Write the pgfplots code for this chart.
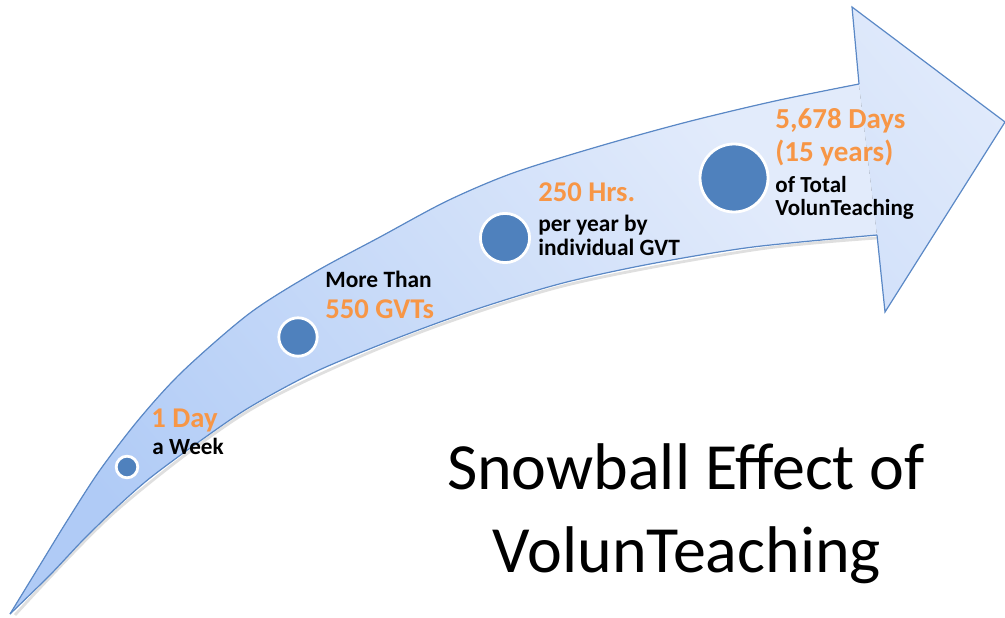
\documentclass[border=0pt]{standalone}
\usepackage{pgfplots}
\pgfplotsset{compat=1.18}
\usepgfplotslibrary{fillbetween}
\usepackage{fontspec}
\setmainfont{Carlito}
\definecolor{arrowedge}{HTML}{5A88C6}
\definecolor{arrowdark}{HTML}{B0CBF6}
\definecolor{arrowlight}{HTML}{E2EBFB}
\definecolor{circ}{HTML}{4F81BD}
\definecolor{orng}{HTML}{F79646}
\begin{document}
\begin{tikzpicture}
\begin{axis}[
  x=0.5pt, y=0.5pt, y dir=reverse,
  xmin=0, xmax=1005, ymin=0, ymax=617,
  hide axis, clip=false,
]
% soft shadow under lower edge
\addplot[smooth, draw=black!25, line width=1.4pt, opacity=0.5] coordinates {
 (877,238) (753,250) (563,286) (400,340) (250,410) (117,510) (15,615)};
% arrow head (fill)
\addplot[draw=none, top color=arrowlight, bottom color=arrowlight!72!arrowdark, shading angle=-50] coordinates {
 (859,84) (852,7) (1005,122) (885,312) (877,235)} -- cycle;
% arrow body edges
\addplot[name path=upper, smooth, draw=arrowedge, line width=0.6pt] coordinates {
 (10,614) (40,565) (67,521) (100,470) (140,418) (183,371) (250,313) (315,272)
 (380,237) (447,201) (513,173) (600,146) (687,122) (775,101) (859,84)};
\addplot[name path=lower, smooth, draw=arrowedge, line width=0.6pt] coordinates {
 (10,614) (50,575) (83,540) (117,507) (150,478) (200,441) (250,407) (317,371)
 (400,337) (480,308) (563,283) (650,264) (753,247) (877,235)};
\addplot[top color=arrowlight, bottom color=arrowdark, shading angle=-50] fill between[of=upper and lower];
% arrow head outline
\addplot[draw=arrowedge, line width=0.6pt, line join=miter] coordinates {
 (859,84) (852,7) (1005,122) (885,312) (877,235)};
% circles
\addplot[scatter, only marks, mark=*,
  scatter/use mapped color={draw=white, fill=circ},
  mark options={line width=1.4pt},
  visualization depends on={\thisrow{r} \as \rad},
  scatter/@pre marker code/.append style={/tikz/mark size=\rad}]
  table {
  x y r
  127 467 5.4
  298 337 9.6
  505 238 12.3
  734 178 17.0
  };
% labels
\node[anchor=base west, inner sep=0, text=orng, font=\bfseries\fontsize{14.3}{16}\selectfont] at (axis cs:151,427) {1 Day};
\node[anchor=base west, inner sep=0, text=black, font=\bfseries\fontsize{11.6}{13}\selectfont] at (axis cs:152,454) {a Week};
\node[anchor=base west, inner sep=0, text=black, font=\bfseries\fontsize{11.7}{13}\selectfont] at (axis cs:325,287) {More Than};
\node[anchor=base west, inner sep=0, text=orng, font=\bfseries\fontsize{14.3}{16}\selectfont] at (axis cs:325,318) {550 GVTs};
\node[anchor=base west, inner sep=0, text=orng, font=\bfseries\fontsize{14.3}{16}\selectfont] at (axis cs:538,201) {250 Hrs.};
\node[anchor=base west, inner sep=0, text=black, font=\bfseries\fontsize{11.7}{13}\selectfont] at (axis cs:538,231) {per year by};
\node[anchor=base west, inner sep=0, text=black, font=\bfseries\fontsize{11.7}{13}\selectfont] at (axis cs:538,255) {individual GVT};
\node[anchor=base west, inner sep=0, text=orng, font=\bfseries\fontsize{14.5}{16}\selectfont] at (axis cs:775,129) {5,678 Days};
\node[anchor=base west, inner sep=0, text=orng, font=\bfseries\fontsize{14.5}{16}\selectfont] at (axis cs:775,161) {(15 years)};
\node[anchor=base west, inner sep=0, text=black, font=\bfseries\fontsize{11.5}{13}\selectfont] at (axis cs:775,192) {of Total};
\node[anchor=base west, inner sep=0, text=black, font=\bfseries\fontsize{11.5}{13}\selectfont] at (axis cs:775,215) {VolunTeaching};
% title
\node[anchor=base, inner sep=0, text=black, font=\fontsize{33}{40}\selectfont] at (axis cs:686,489) {Snowball Effect of};
\node[anchor=base, inner sep=0, text=black, font=\fontsize{33}{40}\selectfont] at (axis cs:687,572) {VolunTeaching};
\end{axis}
\pgfresetboundingbox
\useasboundingbox (current axis.south west) rectangle (current axis.north east);
\end{tikzpicture}
\end{document}
